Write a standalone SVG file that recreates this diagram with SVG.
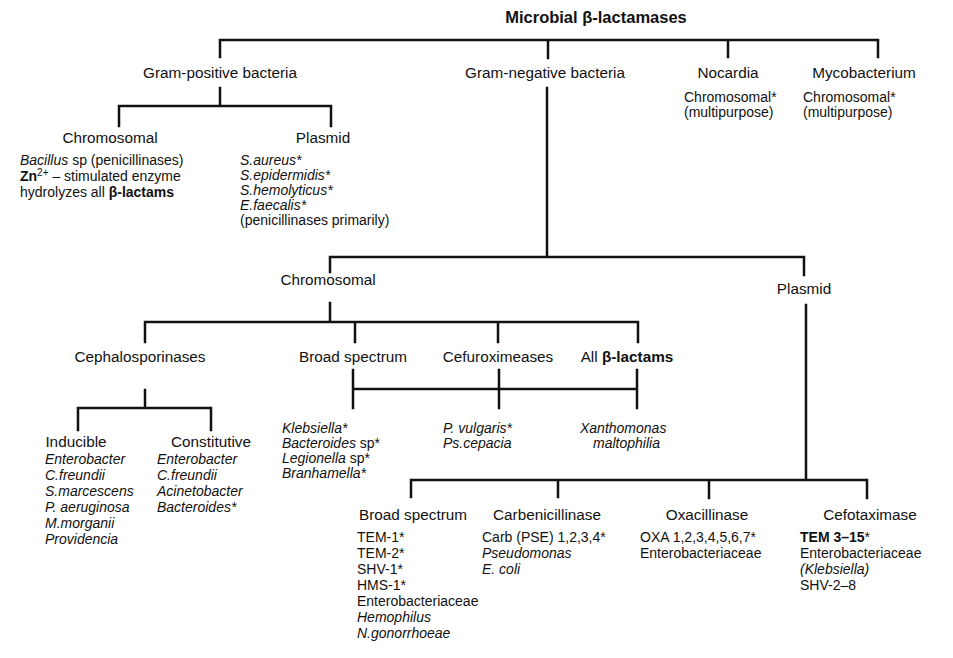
<svg xmlns="http://www.w3.org/2000/svg" width="953" height="658" viewBox="0 0 953 658">
<style>
text{font-family:"Liberation Sans",Arial,sans-serif;font-size:14px;fill:#111}
.t{font-size:16.5px;font-weight:bold}
.h{font-size:15.3px;text-anchor:middle}
.i{font-style:italic}
.b{font-weight:bold}
.c path{fill:none;stroke:#111;stroke-width:2.5;stroke-linecap:square}
</style>
<rect width="953" height="658" fill="#fff"/>
<g id="connectors" class="c">
<path d="M220,57V40H878V57M548,40V58M728,40V57"/>
<path d="M220,88V106M119,126V106H331V126"/>
<path d="M547,88V257M330,272V257H804V275"/>
<path d="M330,303V322M145,342V322H638V342M355,322V342M498,322V342"/>
<path d="M145,390V408M78,430V408H211V430"/>
<path d="M353,370V408M499,370V408M637,370V408M353,389H637"/>
<path d="M806,305V480M411,497V480H867V498M558,480V497M709,480V498"/>
</g>
<g id="root"><text class="t" x="596" y="23" text-anchor="middle">Microbial β-lactamases</text></g>
<g id="gram-positive"><text class="h" x="220" y="78">Gram-positive bacteria</text></g>
<g id="gram-negative"><text class="h" x="545" y="78">Gram-negative bacteria</text></g>
<g id="nocardia"><text class="h" x="728" y="78">Nocardia</text>
<text x="684" y="102">Chromosomal*</text><text x="684" y="117">(multipurpose)</text></g>
<g id="mycobacterium"><text class="h" x="864" y="78">Mycobacterium</text>
<text x="803" y="102">Chromosomal*</text><text x="803" y="117">(multipurpose)</text></g>
<g id="gp-chromosomal"><text class="h" x="110" y="143">Chromosomal</text>
<text x="20" y="165"><tspan class="i">Bacillus</tspan> sp (penicillinases)</text>
<text x="20" y="181"><tspan class="b">Zn</tspan><tspan font-size="10" dy="-5">2+</tspan><tspan dy="5"> – stimulated enzyme</tspan></text>
<text x="20" y="197">hydrolyzes all <tspan class="b">β-lactams</tspan></text></g>
<g id="gp-plasmid"><text class="h" x="323" y="143">Plasmid</text>
<text class="i" x="240" y="165">S.aureus*</text>
<text class="i" x="240" y="180">S.epidermidis*</text>
<text class="i" x="240" y="195">S.hemolyticus*</text>
<text class="i" x="240" y="210">E.faecalis*</text>
<text x="240" y="225">(penicillinases primarily)</text></g>
<g id="gn-chromosomal"><text class="h" x="328" y="285">Chromosomal</text></g>
<g id="gn-plasmid"><text class="h" x="804" y="294">Plasmid</text></g>
<g id="cephalosporinases"><text class="h" x="140" y="362">Cephalosporinases</text></g>
<g id="broad-spectrum-chr"><text class="h" x="353" y="362">Broad spectrum</text>
<text class="i" x="282" y="433">Klebsiella*</text>
<text x="282" y="448"><tspan class="i">Bacteroides</tspan> sp*</text>
<text x="282" y="463"><tspan class="i">Legionella</tspan> sp*</text>
<text class="i" x="282" y="478">Branhamella*</text></g>
<g id="cefuroximeases"><text class="h" x="498" y="362">Cefuroximeases</text>
<text class="i" x="443" y="433">P. vulgaris*</text>
<text class="i" x="443" y="448">Ps.cepacia</text></g>
<g id="all-beta-lactams"><text class="h" x="627" y="362">All <tspan class="b">β-lactams</tspan></text>
<text class="i" x="580" y="433">Xanthomonas</text>
<text class="i" x="593" y="448">maltophilia</text></g>
<g id="inducible"><text class="h" x="76" y="447">Inducible</text>
<text class="i" x="45" y="464">Enterobacter</text>
<text class="i" x="45" y="480">C.freundii</text>
<text class="i" x="45" y="496">S.marcescens</text>
<text class="i" x="45" y="512">P. aeruginosa</text>
<text class="i" x="45" y="528">M.morganii</text>
<text class="i" x="45" y="544">Providencia</text></g>
<g id="constitutive"><text class="h" x="211" y="447">Constitutive</text>
<text class="i" x="157" y="464">Enterobacter</text>
<text class="i" x="157" y="480">C.freundii</text>
<text class="i" x="157" y="496">Acinetobacter</text>
<text class="i" x="157" y="512">Bacteroides*</text></g>
<g id="broad-spectrum-pl"><text class="h" x="413" y="520">Broad spectrum</text>
<text x="357" y="542">TEM-1*</text>
<text x="357" y="558">TEM-2*</text>
<text x="357" y="574">SHV-1*</text>
<text x="357" y="590">HMS-1*</text>
<text x="357" y="606">Enterobacteriaceae</text>
<text class="i" x="357" y="622">Hemophilus</text>
<text class="i" x="357" y="638">N.gonorrhoeae</text></g>
<g id="carbenicillinase"><text class="h" x="547" y="520">Carbenicillinase</text>
<text x="482" y="542">Carb (PSE) 1,2,3,4*</text>
<text class="i" x="482" y="558">Pseudomonas</text>
<text class="i" x="482" y="574">E. coli</text></g>
<g id="oxacillinase"><text class="h" x="707" y="520">Oxacillinase</text>
<text x="640" y="542">OXA 1,2,3,4,5,6,7*</text>
<text x="640" y="558">Enterobacteriaceae</text></g>
<g id="cefotaximase"><text class="h" x="870" y="520">Cefotaximase</text>
<text x="800" y="542"><tspan class="b">TEM 3–15</tspan>*</text>
<text x="800" y="558">Enterobacteriaceae</text>
<text class="i" x="800" y="574">(Klebsiella)</text>
<text x="800" y="590">SHV-2–8</text></g>
</svg>
